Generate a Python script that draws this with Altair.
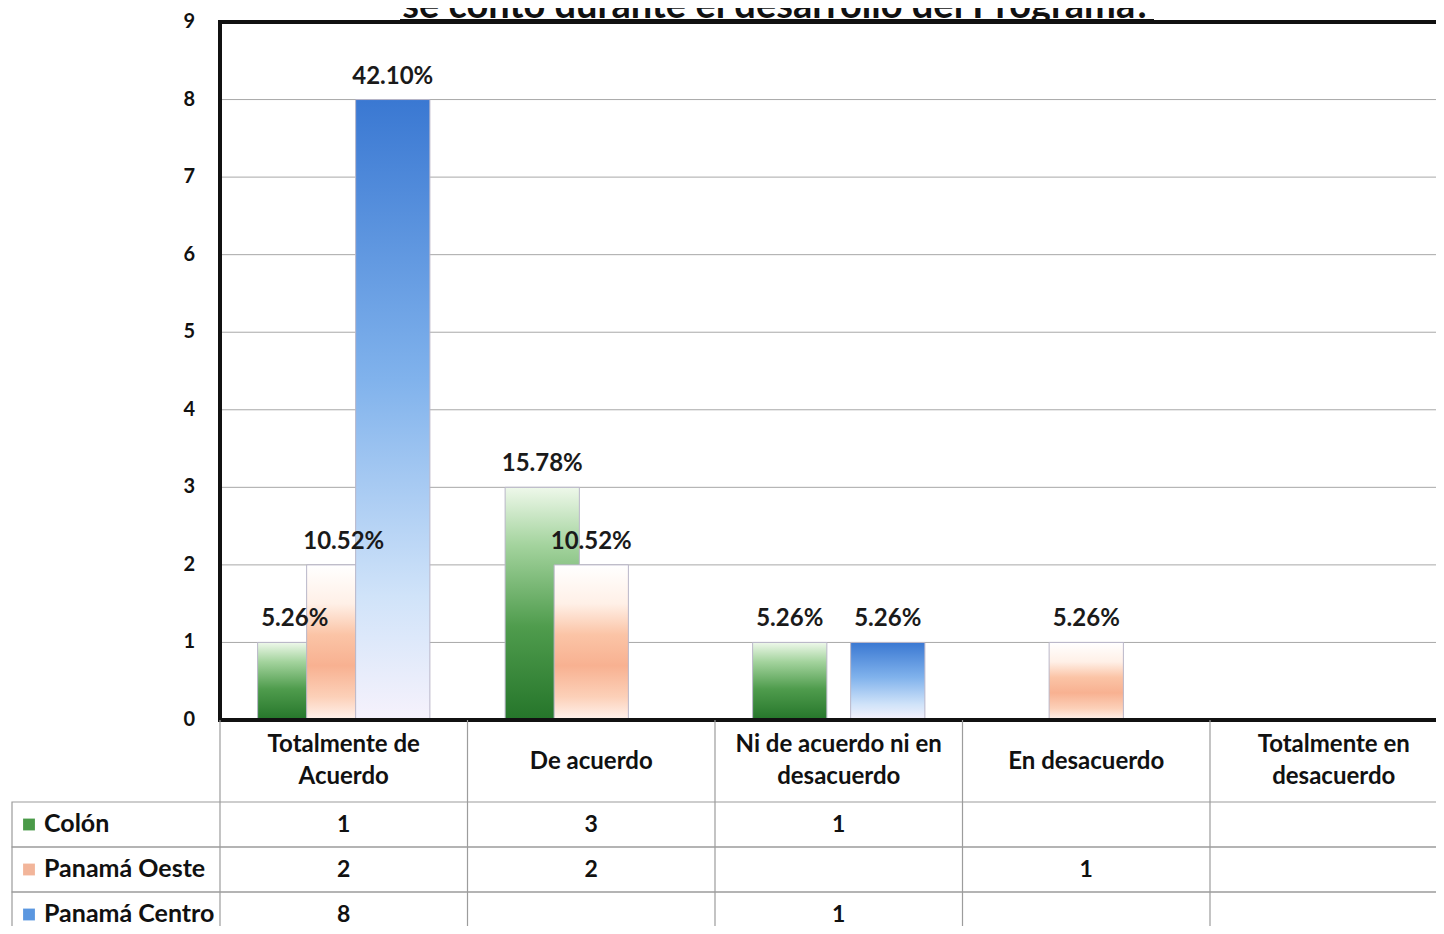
import altair as alt
import pandas as pd

# ---------------- data ----------------
CATEGORIES = [
    "Totalmente de\nAcuerdo",
    "De acuerdo",
    "Ni de acuerdo ni en\ndesacuerdo",
    "En desacuerdo",
    "Totalmente en\ndesacuerdo",
]
SERIES = ["Colón", "Panamá Oeste", "Panamá Centro"]
COLON = [1, 3, 1, 0, 0]
OESTE = [2, 2, 0, 1, 0]
CENTRO = [8, 0, 1, 0, 0]
COLON_PCT = ["5.26%", "15.78%", "5.26%", "", ""]
OESTE_PCT = ["10.52%", "10.52%", "", "5.26%", ""]
CENTRO_PCT = ["42.10%", "", "5.26%", "", ""]
Y_TICKS = [0, 1, 2, 3, 4, 5, 6, 7, 8, 9]
TITLE = "se contó durante el desarrollo del Programa?"

# ---------------- style ----------------
W, H = 1428, 918
FONT = "Lato"
GRID = "#a8a8a8"
LINE = "#9c9c9c"
SWATCH = ["#4a9a48", "#f2b59a", "#5b97e0"]

def grad(stops):
    return alt.LinearGradient(
        gradient="linear",
        stops=[alt.GradientStop(offset=o, color=c) for o, c in stops],
        x1=0, x2=0, y1=0, y2=1,
    )

GRADS = [
    grad([(0, "#eef8ea"), (0.25, "#a3d39d"), (0.6, "#4f9c4d"), (1, "#25752a")]),
    grad([(0, "#ffffff"), (0.25, "#fff0e7"), (0.45, "#fbc4a6"), (0.65, "#f8b191"),
          (0.85, "#fcd0b8"), (1, "#fff3ee")]),
    grad([(0, "#3a78d2"), (0.45, "#80b2ec"), (0.8, "#d0e3f9"), (1, "#f6f2fc")]),
]

def xs():
    return alt.Scale(domain=[0, 5], range=[212, 1449.5], nice=False, zero=False)

def ys():
    return alt.Scale(domain=[0, 9], range=[712, 14], nice=False, zero=False)

def rows_scale():
    return alt.Scale(type="band", domain=SERIES, range=[794, 929], paddingInner=0, paddingOuter=0)

rows = []
for si, (s, vals, pcts) in enumerate(zip(SERIES, [COLON, OESTE, CENTRO], [COLON_PCT, OESTE_PCT, CENTRO_PCT])):
    for ci, (c, v, p) in enumerate(zip(CATEGORIES, vals, pcts)):
        rows.append(dict(serie=s, si=si, ci=ci, cat=c, value=v, pct=p))
df = pd.DataFrame(rows)

bars_base = (
    alt.Chart(df)
    .transform_filter(alt.datum.value > 0)
    .transform_calculate(xc="datum.ci + 0.5 + (datum.si - 1) * 0.198")
    .transform_calculate(xa="datum.xc - 0.15")
    .transform_calculate(xb="datum.xc + 0.15")
    .transform_calculate(zero="0")
)

tick_df = pd.DataFrame({"t": Y_TICKS})
tick_base = alt.Chart(tick_df).transform_calculate(x0="0").transform_calculate(x1="5").transform_calculate(b="0")

grid = (
    tick_base
    .transform_filter((alt.datum.t > 0) & (alt.datum.t < 9))
    .mark_rule(color=GRID, strokeWidth=1)
    .encode(x=alt.X("x0:Q", scale=xs(), axis=None), x2="x1:Q", y=alt.Y("t:Q", scale=ys(), axis=None))
)

ylabels = (
    alt.Chart(tick_df)
    .mark_text(align="right", baseline="middle", font=FONT, fontWeight="bold", fontSize=20, color="#111")
    .encode(x=alt.value(187), y=alt.Y("t:Q", scale=ys(), axis=None), text="t:N")
)

bar_layers = []
for s, g in zip(SERIES, GRADS):
    bar_layers.append(
        bars_base.transform_filter(alt.datum.serie == s)
        .mark_rect(fill=g, stroke="#b9b6c8", strokeWidth=1)
        .encode(
            x=alt.X("xa:Q", scale=xs(), axis=None),
            x2="xb:Q",
            y=alt.Y("value:Q", scale=ys(), axis=None),
            y2="zero:Q",
        )
    )

border = (
    tick_base
    .transform_filter(alt.datum.t == 9)
    .mark_rect(fillOpacity=0, stroke="#111", strokeWidth=4)
    .encode(x=alt.X("x0:Q", scale=xs(), axis=None), x2="x1:Q",
            y=alt.Y("t:Q", scale=ys(), axis=None), y2="b:Q")
)

pct_labels = (
    bars_base.mark_text(baseline="bottom", dy=-11, font=FONT, fontWeight="bold", fontSize=24, color="#1a1a1a")
    .encode(x=alt.X("xc:Q", scale=xs(), axis=None), y=alt.Y("value:Q", scale=ys(), axis=None), text="pct:N")
)

# ---------------- table ----------------
hdr_df = pd.DataFrame({"cat": CATEGORIES, "ci": list(range(len(CATEGORIES)))})

header = (
    alt.Chart(hdr_df)
    .transform_calculate(xm="datum.ci + 0.5")
    .transform_calculate(nl="length(split(datum.cat, '\\n')) - 1")
    .mark_text(align="center", baseline="middle", lineBreak="\n", lineHeight=32,
               font=FONT, fontWeight="bold", fontSize=24, color="#111")
    .encode(
        x=alt.X("xm:Q", scale=xs(), axis=None),
        y=alt.Y("nl:Q", scale=alt.Scale(domain=[0, 1], range=[754, 737], nice=False, zero=False), axis=None),
        text="cat:N",
    )
)

vlines = (
    alt.Chart(hdr_df)
    .mark_rule(color=LINE, strokeWidth=1.2)
    .encode(x=alt.X("ci:Q", scale=xs(), axis=None), y=alt.value(712), y2=alt.value(H + 20))
)

row_df = pd.DataFrame({"serie": SERIES})

row_boxes = (
    alt.Chart(row_df)
    .mark_rect(fillOpacity=0, stroke=LINE, strokeWidth=1.2)
    .encode(x=alt.value(4), x2=alt.value(W + 10), y=alt.Y("serie:N", scale=rows_scale(), axis=None))
)

cells = (
    alt.Chart(df)
    .transform_filter(alt.datum.value > 0)
    .transform_calculate(xm="datum.ci + 0.5")
    .mark_text(align="center", baseline="middle", font=FONT, fontWeight="bold", fontSize=23, color="#111")
    .encode(x=alt.X("xm:Q", scale=xs(), axis=None), y=alt.Y("serie:N", scale=rows_scale(), axis=None), text="value:N")
)

row_labels = (
    alt.Chart(row_df)
    .mark_text(align="left", baseline="middle", dy=-1, font=FONT, fontWeight="bold", fontSize=25, color="#111")
    .encode(x=alt.value(36), y=alt.Y("serie:N", scale=rows_scale(), axis=None), text="serie:N")
)

swatches = (
    alt.Chart(row_df)
    .mark_square(size=140, opacity=1)
    .encode(
        x=alt.value(21),
        y=alt.Y("serie:N", scale=rows_scale(), axis=None),
        color=alt.Color("serie:N", scale=alt.Scale(domain=SERIES, range=SWATCH), legend=None),
    )
)

title_df = pd.DataFrame({"t": [TITLE]})
title = (
    alt.Chart(title_df)
    .mark_text(align="center", baseline="alphabetic", font=FONT, fontWeight="bold", fontSize=38, color="#111")
    .encode(x=alt.value(769), y=alt.value(10), text="t:N")
)
underline = (
    alt.Chart(title_df)
    .mark_rule(color="#111", strokeWidth=2)
    .encode(x=alt.value(392), x2=alt.value(1146), y=alt.value(12))
)

chart = (
    alt.layer(grid, ylabels, *bar_layers, border, pct_labels,
              vlines, row_boxes, header, cells, swatches, row_labels, title, underline)
    .resolve_scale(y="independent")
    .properties(width=W, height=H, padding=0, autosize=alt.AutoSizeParams(type="none"))
    .configure_view(strokeWidth=0)
)

chart.save("out.html", embed_options={"renderer": "svg", "actions": False})
